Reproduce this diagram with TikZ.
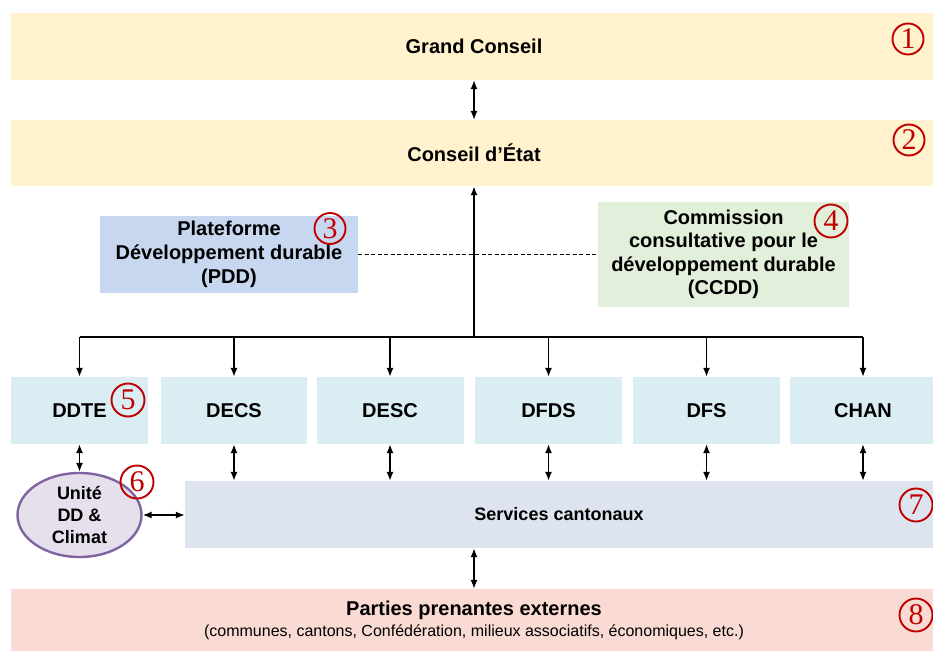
\documentclass[tikz,border=0pt]{standalone}
\usepackage{fontspec}
\setmainfont{Liberation Sans}
\newfontfamily\numfont{Liberation Serif}
\usetikzlibrary{arrows.meta,positioning,shapes.geometric}

\definecolor{bandyellow}{HTML}{FFF2CC}
\definecolor{pddblue}{HTML}{C6D7EF}
\definecolor{ccddgreen}{HTML}{E2EFDA}
\definecolor{deptcyan}{HTML}{DAEDF3}
\definecolor{svcgray}{HTML}{DEE4EF}
\definecolor{unitefill}{HTML}{E6E0EC}
\definecolor{uniteline}{HTML}{8064A2}
\definecolor{ppepink}{HTML}{FADBD4}
\definecolor{numred}{HTML}{C00000}

\begin{document}
\begin{tikzpicture}[x=1pt,y=-1pt,
    >={Latex[length=9pt,width=7pt]},
    box/.style={fill=#1,inner sep=0pt,align=center,
      font=\fontsize{20}{24}\selectfont\bfseries},
    dept/.style={box=deptcyan,minimum height=67pt},
    num/.style={circle,draw=numred,line width=1.9pt,minimum size=33pt,
      inner sep=0pt,text=numred,font=\numfont\fontsize{30}{30}\selectfont},
    link/.style={line width=1.4pt},
    dbl/.style={link,<->}]
  \useasboundingbox (0,0) rectangle (933,650);

  % bandes du haut
  \node[box=bandyellow,minimum width=926pt,minimum height=67pt] at (474,46.5) (gc) {Grand Conseil};
  \node[box=bandyellow,minimum width=926pt,minimum height=66pt] at (474,153) (ce) {Conseil d’État};
  \node[num,minimum size=31pt] at (908,39) (n1) {1};
  \node[num,minimum size=31pt] at (909,140) (n2) {2};
  \draw[dbl] (gc) -- (ce);

  % organes consultatifs
  \node[box=pddblue,minimum width=258pt,minimum height=77pt] at (229,254.5) (pdd)
    {Plateforme\\Développement durable\\(PDD)};
  \node[box=ccddgreen,minimum width=251pt,minimum height=105pt,
    font=\fontsize{20}{23.5}\selectfont\bfseries] at (723.5,254.5) (ccdd)
    {Commission\\consultative pour le\\développement durable\\(CCDD)};
  \node[num,minimum size=31pt] at (330,228.5) (n3) {3};
  \node[num] at (831,221) (n4) {4};
  \draw[line width=1.2pt,dash pattern=on 4pt off 2.5pt] (pdd) -- (ccdd);

  % departements
  \coordinate (bar) at (474,337);
  \foreach \n/\x/\w/\t in {ddte/79.5/137/DDTE,decs/234/146/DECS,desc/390/147/DESC,
      dfds/548.5/147/DFDS,dfs/706.5/147/DFS,chan/863/146/CHAN}
    \node[dept,minimum width=\w pt] at (\x,410.5) (\n) {\t};
  \node[num] at (128,400) (n5) {5};
  \draw[line width=2.6pt,->] (bar) -- (ce.south -| bar);
  \draw[line width=2pt] (ddte.north |- bar) -- (chan.north |- bar);
  \foreach \n in {ddte,decs,desc,dfds,dfs,chan}
    \draw[link,->] (\n.north |- bar) -- (\n.north);

  % services et unite DD
  \node[box=svcgray,minimum width=748pt,minimum height=67pt,
    font=\fontsize{18}{22}\selectfont\bfseries] at (559,514.5) (svc) {Services cantonaux};
  \node[ellipse,draw=uniteline,line width=2.4pt,fill=unitefill,minimum width=124pt,
    minimum height=84pt,inner sep=0pt,align=center,
    font=\fontsize{18}{22}\selectfont\bfseries] at (79.5,515) (unite) {Unité\\DD \&\\Climat};
  \node[num] at (137,482) (n6) {6};
  \node[num] at (916,505) (n7) {7};
  \draw[dbl] (ddte.south) -- (unite.north);
  \foreach \n in {decs,desc,dfds,dfs,chan}
    \draw[dbl] (\n.south) -- (\n.south |- svc.north);
  \draw[dbl] (unite.east) -- (unite.east -| svc.west);

  % parties prenantes
  \node[box=ppepink,minimum width=926pt,minimum height=62pt] at (474,620) (ppe)
    {Parties prenantes externes\\[-3pt]
     {\fontsize{16}{19}\selectfont\mdseries (communes, cantons, Confédération, milieux associatifs, économiques, etc.)}};
  \node[num] at (916,615) (n8) {8};
  \draw[dbl] (ppe.north |- svc.south) -- (ppe.north);
\end{tikzpicture}
\end{document}
